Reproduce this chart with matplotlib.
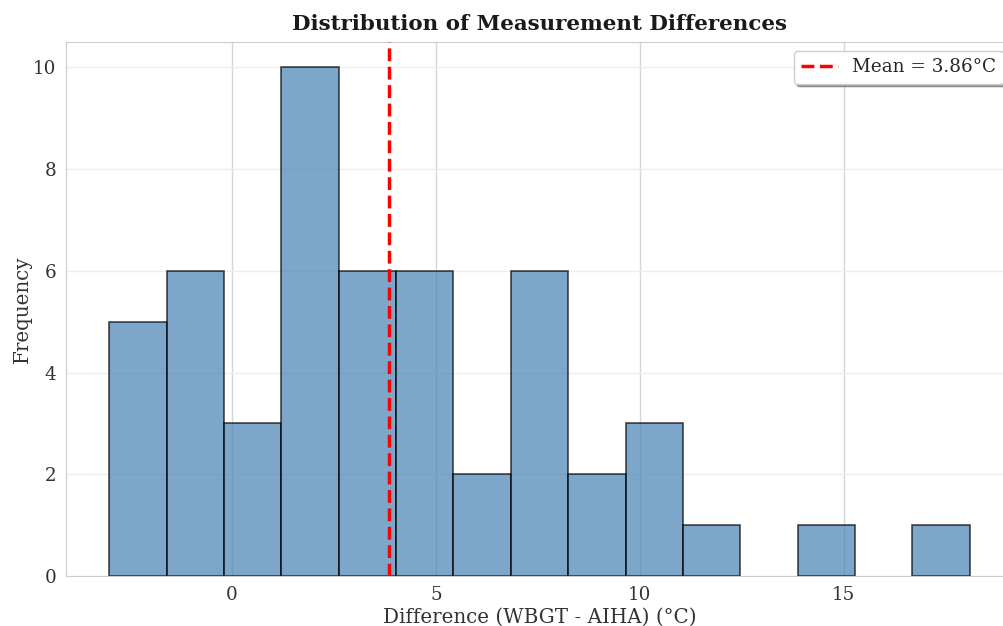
import numpy as np
import matplotlib
matplotlib.use("Agg")
import matplotlib.pyplot as plt
import seaborn as sns

# Histogram data
data_min = -3.01
data_max = 18.09
counts = [5, 6, 3, 10, 6, 6, 2, 6, 2, 3, 1, 0, 1, 0, 1]
mean_diff = 3.86

sns.set_style("whitegrid")
plt.rcParams['font.family'] = ['DejaVu Serif']

fig = plt.figure(figsize=(10.04, 6.26), dpi=100)
W, H = 1004, 626
ax = fig.add_axes([66 / W, 1 - 576 / H, (1013 - 66) / W, (576 - 42) / H])

edges = np.linspace(data_min, data_max, len(counts) + 1)
centers = (edges[:-1] + edges[1:]) / 2
_, _, patches = ax.hist(centers, bins=edges, weights=counts, color='steelblue',
                        alpha=0.7, edgecolor='black', linewidth=1.2, zorder=2)
for p, c in zip(patches, counts):
    if c == 0:
        p.set_visible(False)
ax.axvline(mean_diff, color='red', linestyle='--', linewidth=2.5,
           label=f'Mean = {mean_diff:.2f}°C', zorder=3)

ax.set_xlim(-4.07, 19.15)
ax.set_ylim(0, 10.5)
ax.set_xticks([0, 5, 10, 15])
ax.set_yticks([0, 2, 4, 6, 8, 10])
ax.tick_params(labelsize=13.2, colors='#333333')
ax.set_xlabel('Difference (WBGT - AIHA) (°C)', fontsize=14.3, color='#333333',
              labelpad=3)
ax.set_ylabel('Frequency', fontsize=14.3, color='#333333', labelpad=1)
ax.set_title('Distribution of Measurement Differences', fontsize=15.4,
             fontweight='bold', color='#1a1a1a', pad=9)
for s in ax.spines.values():
    s.set_color('#cccccc')
ax.grid(False)
ax.grid(True, axis='x', color='#d6d6d6', linewidth=1.0, zorder=0)
ax.grid(True, axis='y', color='#eeeeee', linewidth=1.0, zorder=0)
ax.set_axisbelow(True)
ax.legend(loc='upper right', fontsize=13.2, frameon=True, shadow=True,
          fancybox=True)

fig.savefig('out.png', dpi=100)
